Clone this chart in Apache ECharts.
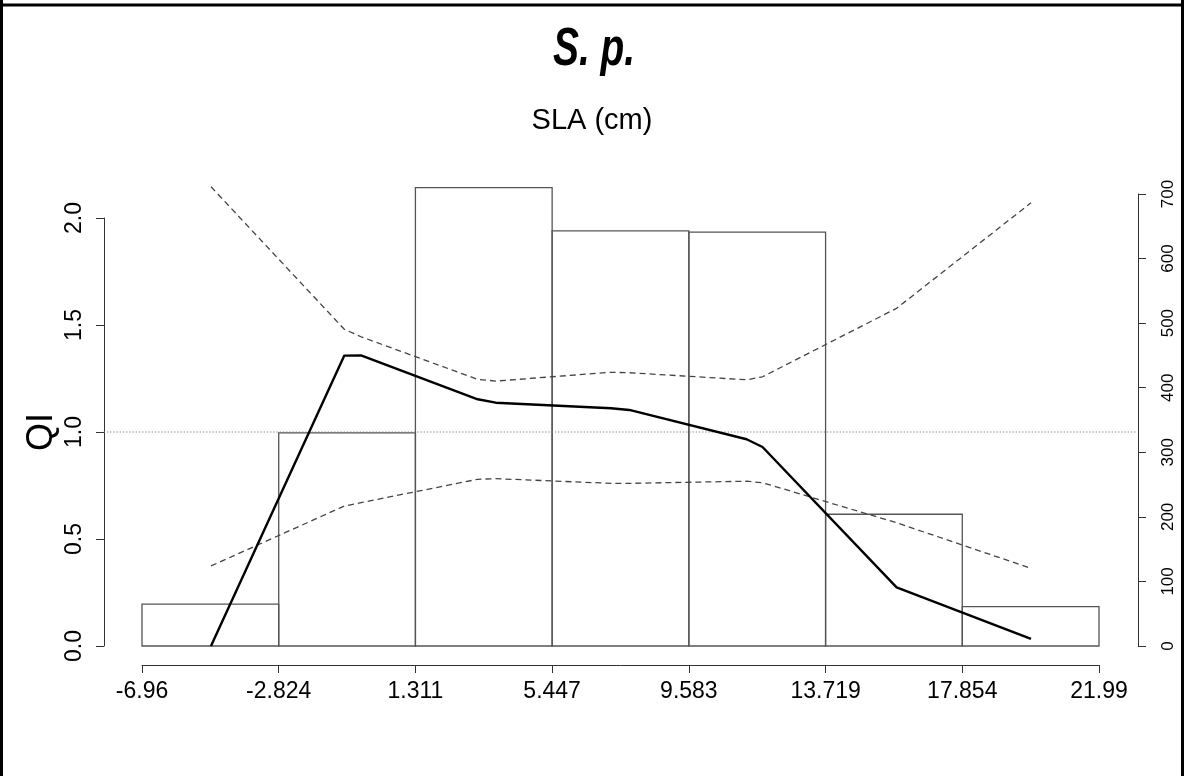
<!DOCTYPE html>
<html>
<head>
<meta charset="utf-8">
<script src="https://cdn.jsdelivr.net/npm/echarts@6/dist/echarts.min.js"></script>
<style>
  html, body { margin: 0; padding: 0; background: #fff; }
  #chart { width: 1184px; height: 776px; }
</style>
</head>
<body>
<div id="chart"></div>
<script>
// Histogram bin edges of SLA and the tick labels printed under them
const BIN_EDGES = [-6.96, -2.824, 1.311, 5.447, 9.583, 13.719, 17.854, 21.99];
const TICK_LABELS = ['-6.96', '-2.824', '1.311', '5.447', '9.583', '13.719', '17.854', '21.99'];
// Observation counts per bin (right axis)
const COUNTS = [65, 330, 710, 643, 641, 204, 61];
// Quality index curve and its confidence band (left axis)
const QI_X = [-4.873, -0.840, -0.335, 3.195, 3.740, 7.228, 7.781, 11.330, 11.811, 15.867, 19.933];
const QI_VALUES = [0.00, 1.357, 1.358, 1.153, 1.137, 1.111, 1.103, 0.966, 0.930, 0.274, 0.033];
const QI_UPPER = [2.146, 1.480, 1.445, 1.246, 1.238, 1.279, 1.277, 1.244, 1.258, 1.578, 2.071];
const QI_LOWER = [0.374, 0.654, 0.670, 0.779, 0.782, 0.760, 0.760, 0.770, 0.763, 0.576, 0.363];
const QI_REFERENCE = 1;
const LEFT_TICKS = [0, 0.5, 1, 1.5, 2];
const RIGHT_TICKS = [0, 100, 200, 300, 400, 500, 600, 700];

const FONT = 'Liberation Sans, Arial, Helvetica, sans-serif';
const X_MIN = BIN_EDGES[0];
const X_MAX = BIN_EDGES[BIN_EDGES.length - 1];
// plot region extends 4% beyond the data range on each side
const X_PAD = 0.04 * (X_MAX - X_MIN);

const pair = (xs, ys) => xs.map((x, i) => [x, ys[i]]);
const bins = COUNTS.map((c, i) => [BIN_EDGES[i], BIN_EDGES[i + 1], c]);

const chart = echarts.init(document.getElementById('chart'), null, { renderer: 'canvas' });

const axisLineStyle = { color: '#333', width: 1 };

// outer frame and the condensed bold-italic heading
const decorations = [
  { type: 'line', shape: { x1: 0, y1: 5, x2: 1184, y2: 5 }, style: { stroke: '#000', lineWidth: 3 } },
  { type: 'line', shape: { x1: 1.5, y1: 0, x2: 1.5, y2: 776 }, style: { stroke: '#000', lineWidth: 3 } },
  { type: 'line', shape: { x1: 1182.5, y1: 0, x2: 1182.5, y2: 776 }, style: { stroke: '#000', lineWidth: 3 } },
  {
    type: 'text', x: 594, y: 50, scaleX: 0.72,
    style: {
      text: 'S. p.', fill: '#000',
      font: 'italic bold 54px ' + FONT,
      textAlign: 'center', textVerticalAlign: 'middle'
    }
  }
];

chart.setOption({
  animation: false,
  backgroundColor: '#fff',
  title: [
    {
      text: 'SLA (cm)', left: 'center', top: 101,
      textStyle: { fontFamily: FONT, fontSize: 29, fontWeight: 'normal', color: '#000' }
    }
  ],
  graphic: decorations,
  grid: [
    { left: 142, right: 85, top: 218, bottom: 130 },
    { left: 142, right: 85, top: 194, bottom: 130 }
  ],
  xAxis: [
    {
      type: 'value', gridIndex: 0, min: X_MIN, max: X_MAX,
      offset: 19,
      axisLine: { show: true, onZero: false, lineStyle: axisLineStyle },
      axisTick: { show: true, length: 8, lineStyle: axisLineStyle, customValues: BIN_EDGES },
      axisLabel: {
        customValues: BIN_EDGES,
        formatter: v => TICK_LABELS[BIN_EDGES.indexOf(v)],
        fontFamily: FONT, fontSize: 23, color: '#000', margin: 15
      },
      splitLine: { show: false }
    },
    {
      type: 'value', gridIndex: 1, min: X_MIN, max: X_MAX, show: false
    }
  ],
  yAxis: [
    {
      type: 'value', gridIndex: 0, position: 'left', min: 0, max: 2, interval: 0.5,
      offset: 38,
      name: 'QI', nameLocation: 'middle', nameGap: 44, nameRotate: 90,
      nameMoveOverlap: false,
      nameTextStyle: { fontFamily: FONT, fontSize: 36, color: '#000' },
      axisLine: { show: true, onZero: false, lineStyle: axisLineStyle },
      axisTick: { show: true, length: 8, lineStyle: axisLineStyle, customValues: LEFT_TICKS },
      axisLabel: {
        customValues: LEFT_TICKS,
        rotate: 90, formatter: v => v.toFixed(1),
        fontFamily: FONT, fontSize: 23, color: '#000', margin: 18
      },
      splitLine: { show: false }
    },
    {
      type: 'value', gridIndex: 1, position: 'right', min: 0, max: 700, interval: 100,
      offset: 39,
      axisLine: { show: true, onZero: false, lineStyle: axisLineStyle },
      axisTick: { show: true, length: 8, lineStyle: axisLineStyle, customValues: RIGHT_TICKS },
      axisLabel: {
        customValues: RIGHT_TICKS,
        rotate: 90,
        fontFamily: FONT, fontSize: 17, color: '#000', margin: 22
      },
      splitLine: { show: false }
    }
  ],
  series: [
    {
      name: 'counts', type: 'custom', xAxisIndex: 1, yAxisIndex: 1, z: 1,
      data: bins,
      renderItem: (params, api) => {
        const p0 = api.coord([api.value(0), api.value(2)]);
        const p1 = api.coord([api.value(1), 0]);
        return {
          type: 'rect',
          shape: { x: p0[0], y: p0[1], width: p1[0] - p0[0], height: p1[1] - p0[1] },
          style: { fill: 'none', stroke: '#555', lineWidth: 1.3 }
        };
      }
    },
    {
      name: 'upper', type: 'line', xAxisIndex: 0, yAxisIndex: 0, z: 3,
      clip: false, symbol: 'none',
      data: pair(QI_X, QI_UPPER),
      lineStyle: { color: '#444', width: 1.3, type: [6, 4] }
    },
    {
      name: 'lower', type: 'line', xAxisIndex: 0, yAxisIndex: 0, z: 3,
      clip: false, symbol: 'none',
      data: pair(QI_X, QI_LOWER),
      lineStyle: { color: '#444', width: 1.3, type: [6, 4] }
    },
    {
      name: 'QI', type: 'line', xAxisIndex: 0, yAxisIndex: 0, z: 4,
      clip: false, symbol: 'none',
      data: pair(QI_X, QI_VALUES),
      lineStyle: { color: '#000', width: 2.4 }
    }
  ]
});

// Horizontal reference at QI = 1 across the whole plot region
const refStart = chart.convertToPixel({ xAxisIndex: 0, yAxisIndex: 0 }, [X_MIN - X_PAD, QI_REFERENCE]);
const refEnd = chart.convertToPixel({ xAxisIndex: 0, yAxisIndex: 0 }, [X_MAX + X_PAD, QI_REFERENCE]);
chart.setOption({
  graphic: decorations.concat([{
    type: 'line', z: 2, silent: true,
    shape: { x1: refStart[0], y1: refStart[1], x2: refEnd[0], y2: refEnd[1] },
    style: { stroke: '#777', lineWidth: 1.2, lineDash: [1.2, 2] }
  }])
});
</script>
</body>
</html>
